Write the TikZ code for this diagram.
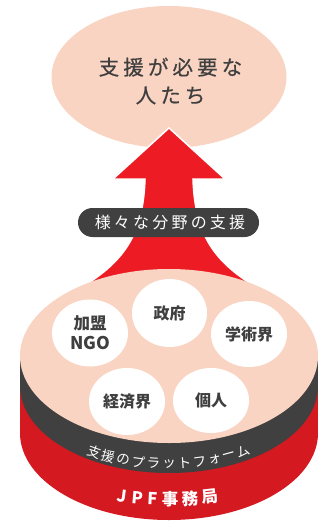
\documentclass[tikz,border=0pt]{standalone}
\usepackage{fontspec}
\setmainfont{Noto Sans CJK JP}
\newfontfamily\jpsp[LetterSpace=20]{Noto Sans CJK JP}
\newfontfamily\jpspm[LetterSpace=20,FakeBold=0.5]{Noto Sans CJK JP}
\usetikzlibrary{shapes.geometric}
\definecolor{peach}{HTML}{FAD4C2}
\definecolor{arrowred}{HTML}{ED1C24}
\definecolor{basered}{HTML}{D41920}
\definecolor{dgray}{HTML}{404040}
\definecolor{txt}{HTML}{3F3F3F}
\begin{document}
\begin{tikzpicture}[x=1pt,y=-1pt,
  bubble/.style={ellipse, fill=white, inner sep=0, minimum width=76, minimum height=67,
    text=txt, font=\bfseries\fontsize{16}{20}\selectfont, align=center},
  layer/.style={ellipse, inner sep=0, minimum width=298, minimum height=174},
  bandchar/.style={text=white, inner sep=0, font=\fontsize{13.5}{14}\selectfont},
  basechar/.style={text=white, inner sep=0, font=\bfseries\fontsize{16.5}{17}\selectfont}]
\useasboundingbox (0,0) rectangle (334,524);

% top ellipse
\node[ellipse, fill=peach, inner sep=0, minimum width=235, minimum height=142] (need) at (169,77) {};
\node[text=txt, font=\jpspm\fontsize{20.5}{28}\selectfont, align=center] (needtext) at (170.5,81) {支援が必要な\\人たち};

% arrow
\fill[arrowred, draw=white, line width=1.5] (169,128) -- (225,179) -- (193,179)
  .. controls (195,240) and (218,265) .. (264,292) -- (264,310) -- (74,310) -- (74,292)
  .. controls (120,265) and (143,240) .. (145,179) -- (113,179) -- cycle;

% platform cylinder
\fill[basered] (20,386) rectangle (318,433);
\node[layer, fill=basered] (base) at (169,433) {};
\fill[dgray] (20,356) rectangle (318,386);
\node[layer, fill=dgray] (band) at (169,386) {};
\node[layer, fill=peach] (platform) at (169,356) {};

% label on arrow
\node[fill=dgray, rounded corners=14.5, minimum width=181, minimum height=29, inner sep=0,
  text=white, font=\jpsp\fontsize{16}{16}\selectfont] (fields) at (168.5,222.5) {\hspace*{3pt}様々な分野の支援};

% bubbles
\node[bubble] (ngo) at (90,333) {{\fontsize{16.5}{20}\selectfont 加盟}\\{\fontsize{17.5}{20}\selectfont NGO}};
\node[bubble, minimum width=75, minimum height=68] (gov) at (169.5,313) {政府};
\node[bubble, minimum height=66] (acad) at (249,334) {学術界};
\node[bubble] (econ) at (127,401.5) {経済界};
\node[bubble, minimum height=65] (indiv) at (211,400.5) {個人};

% band text along arc
\foreach \ch [count=\i] in {支,援,の,プ,ラ,ッ,ト,フ,ォ,ー,ム}{
  \pgfmathsetmacro\ph{119.8-(\i-1)*5.96}
  \pgfmathsetmacro\rot{atan2(93*cos(\ph),149*sin(\ph))}
  \node[bandchar, rotate=\rot] (pf\i) at ({169+149*cos(\ph)},{371+93*sin(\ph)}) {\ch};
}

% base text
\foreach \ch/\xx [count=\i] in {J/122,P/138,F/153,事/170,務/190,局/210}{
  \pgfmathsetmacro\yy{499-0.00136*(\xx-169)*(\xx-169)}
  \pgfmathsetmacro\rot{atan(0.00272*(\xx-169))}
  \node[basechar, rotate=\rot] (jpf\i) at (\xx,\yy) {\ch};
}
\end{tikzpicture}
\end{document}
